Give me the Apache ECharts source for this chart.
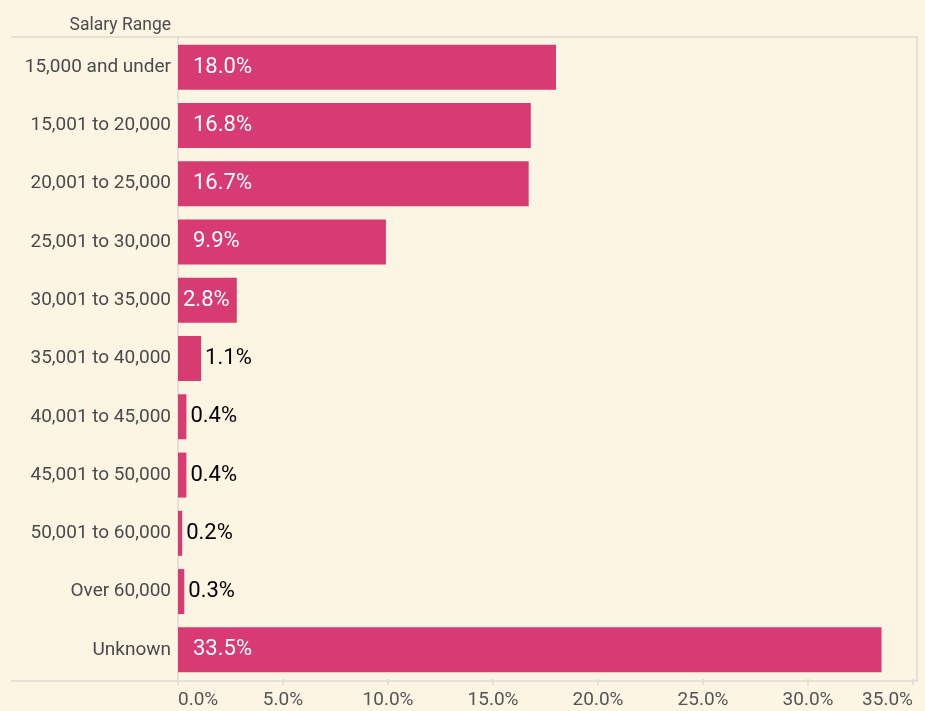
<!DOCTYPE html>
<html>
<head>
<meta charset="utf-8">
<script src="https://cdn.jsdelivr.net/npm/echarts@6/dist/echarts.min.js"></script>
<style>
  html, body { margin: 0; padding: 0; background: #fdf5e4; }
  #chart { width: 925px; height: 711px; }
</style>
</head>
<body>
<div id="chart"></div>
<script>
// Share of respondents by salary range (percent)
const salaryRanges = [
  '15,000 and under', '15,001 to 20,000', '20,001 to 25,000', '25,001 to 30,000',
  '30,001 to 35,000', '35,001 to 40,000', '40,001 to 45,000', '45,001 to 50,000',
  '50,001 to 60,000', 'Over 60,000', 'Unknown'
];
const shares = [18.0, 16.8, 16.7, 9.9, 2.8, 1.1, 0.4, 0.4, 0.2, 0.3, 33.5];
const xTicks = { min: 0, max: 35, interval: 5 };

const FONT = '"Roboto", sans-serif';
const BAR = '#d83a72';
const RULE = '#dcdad6';

// Labels sit inside wide bars, outside narrow ones
function labelFor(v) {
  if (v >= 5) return { position: 'insideLeft', distance: 15, color: '#ffffff' };
  if (v >= 2) return { position: 'insideLeft', distance: 5, color: '#ffffff' };
  return { position: 'right', distance: 4, color: '#000000' };
}

const chart = echarts.init(document.getElementById('chart'), null, { renderer: 'canvas' });
chart.setOption({
  backgroundColor: '#fdf5e4',
  animation: false,
  textStyle: { fontFamily: FONT },
  grid: { left: 178, right: 12, top: 38, height: 641, containLabel: false },
  xAxis: {
    type: 'value',
    min: xTicks.min, max: xTicks.max, interval: xTicks.interval,
    axisLine: { show: false },
    axisTick: { show: true, length: 6, lineStyle: { color: RULE, width: 1.5 } },
    splitLine: { show: false },
    axisLabel: {
      formatter: v => v.toFixed(1) + '%',
      color: '#555555', fontSize: 19, fontFamily: FONT, margin: 12,
      alignMinLabel: 'left', alignMaxLabel: 'right'
    }
  },
  yAxis: {
    type: 'category',
    data: salaryRanges,
    inverse: true,
    name: 'Salary Range',
    nameLocation: 'start',
    nameGap: 0,
    nameTextStyle: { color: '#4d4d4d', fontSize: 17.5, fontFamily: FONT, align: 'right', verticalAlign: 'bottom', padding: [0, 7, 3, 0] },
    axisLine: { show: true, lineStyle: { color: RULE, width: 1.5 } },
    axisTick: { show: false },
    axisLabel: { color: '#4a4a4a', fontSize: 19, fontFamily: FONT, margin: 7 }
  },
  series: [{
    type: 'bar',
    barWidth: 45,
    itemStyle: { color: BAR },
    data: shares.map(v => ({ value: v, label: labelFor(v) })),
    label: {
      show: true,
      fontSize: 22,
      fontFamily: FONT,
      formatter: p => p.value.toFixed(1) + '%'
    }
  }],
  graphic: [
    { type: 'line', shape: { x1: 11, y1: 37, x2: 918, y2: 37 }, style: { stroke: RULE, lineWidth: 1.5 } },
    { type: 'line', shape: { x1: 11, y1: 681, x2: 918, y2: 681 }, style: { stroke: RULE, lineWidth: 1.5 } },
    { type: 'line', shape: { x1: 917, y1: 37, x2: 917, y2: 681 }, style: { stroke: RULE, lineWidth: 1.5 } }
  ]
});
</script>
</body>
</html>
